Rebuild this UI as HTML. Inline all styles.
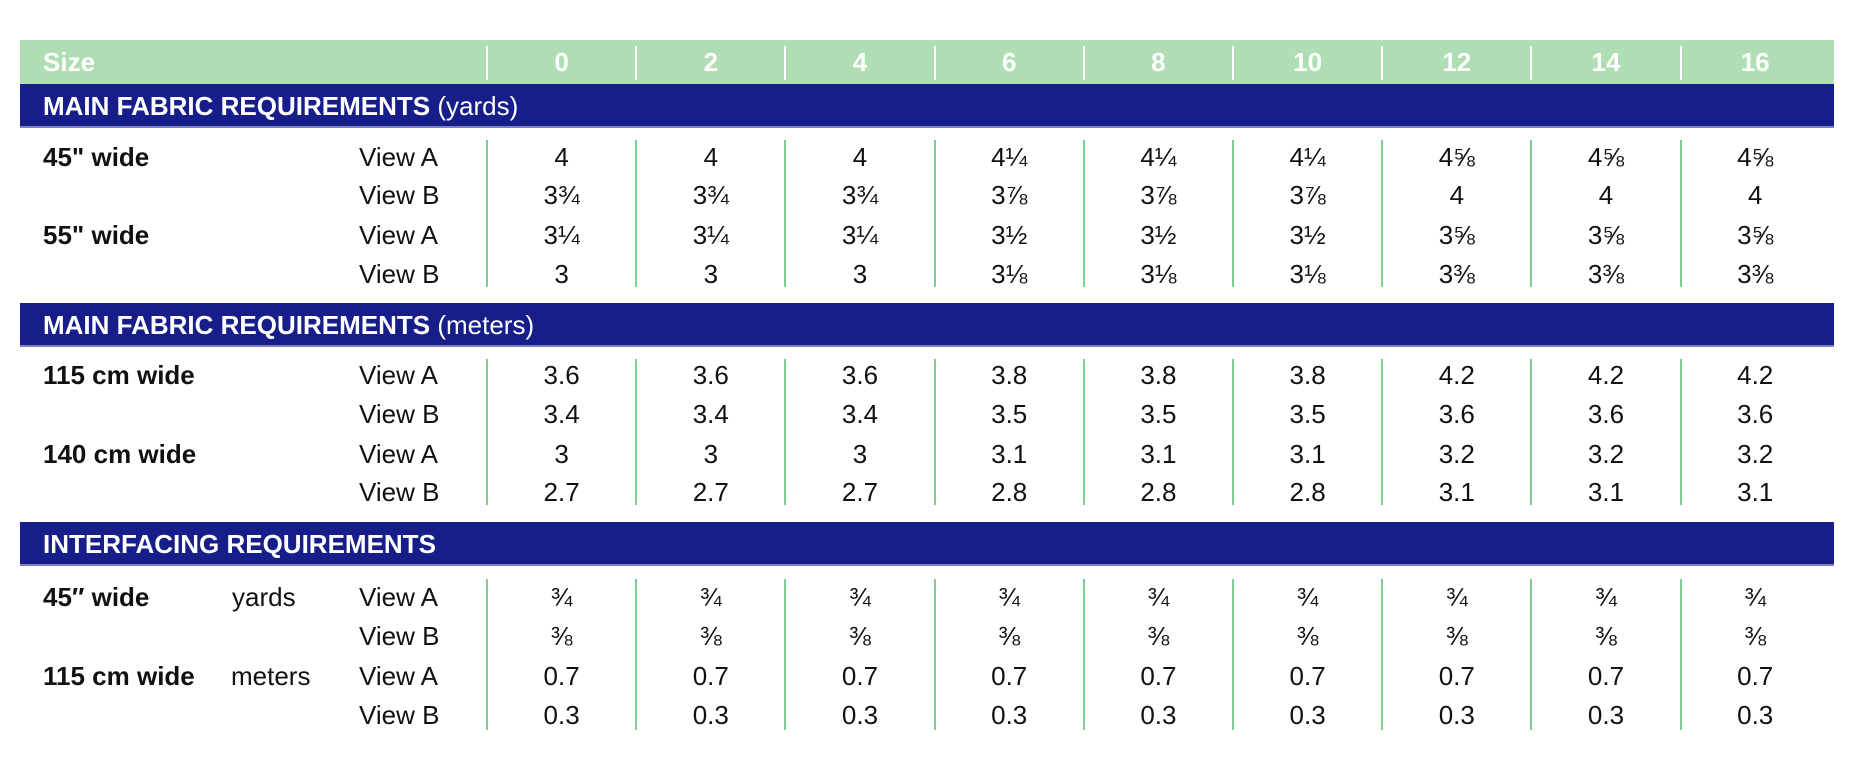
<!DOCTYPE html>
<html><head><meta charset="utf-8">
<style>
html,body{margin:0;padding:0;background:#fff;}
#page{position:relative;width:1855px;height:761px;overflow:hidden;font-family:"Liberation Sans",sans-serif;color:#111;}
.band{position:absolute;left:20px;width:1814px;}
.hdr{background:#b0deb4;top:40px;height:44px;}
.blue{background:#171e8a;border-bottom:2px solid #7d82c4;box-sizing:border-box;height:44px;color:#fff;font-size:26px;line-height:44px;padding-left:23px;}
.t{position:absolute;white-space:nowrap;font-size:26px;line-height:30px;transform:translateY(-50%);}
.c{transform:translate(-50%,-50%);}
.b{font-weight:bold;}
.w{color:#fff;font-weight:bold;}
.vl{position:absolute;width:2px;background:#7fcf8f;}
.hl{position:absolute;width:2px;background:#fff;top:46px;height:34px;}
</style></head>
<body>
<div id="page">
<div class="band hdr"></div>
<div class="band blue" style="top:84px"><span style="font-weight:bold">MAIN FABRIC REQUIREMENTS</span> (yards)</div>
<div class="band blue" style="top:303px"><span style="font-weight:bold">MAIN FABRIC REQUIREMENTS</span> (meters)</div>
<div class="band blue" style="top:522px"><span style="font-weight:bold">INTERFACING REQUIREMENTS</span></div>
</div>
<script>
const sizes=["0","2","4","6","8","10","12","14","16"];
const yardsRows=[
["4","4","4","4¼","4¼","4¼","4⅝","4⅝","4⅝"],
["3¾","3¾","3¾","3⅞","3⅞","3⅞","4","4","4"],
["3¼","3¼","3¼","3½","3½","3½","3⅝","3⅝","3⅝"],
["3","3","3","3⅛","3⅛","3⅛","3⅜","3⅜","3⅜"]];
const meterRows=[
["3.6","3.6","3.6","3.8","3.8","3.8","4.2","4.2","4.2"],
["3.4","3.4","3.4","3.5","3.5","3.5","3.6","3.6","3.6"],
["3","3","3","3.1","3.1","3.1","3.2","3.2","3.2"],
["2.7","2.7","2.7","2.8","2.8","2.8","3.1","3.1","3.1"]];
const interRows=[
["¾","¾","¾","¾","¾","¾","¾","¾","¾"],
["⅜","⅜","⅜","⅜","⅜","⅜","⅜","⅜","⅜"],
["0.7","0.7","0.7","0.7","0.7","0.7","0.7","0.7","0.7"],
["0.3","0.3","0.3","0.3","0.3","0.3","0.3","0.3","0.3"]];
const page=document.getElementById('page');
const colX0=487, colW=149.2;
function txt(s,x,y,cls,name){const d=document.createElement('div');d.className='t '+cls;d.textContent=s;d.style.left=x+'px';d.style.top=y+'px';


page.appendChild(d);return d;}
txt('Size',43,62,'w','size-label');
sizes.forEach((s,i)=>{txt(s,colX0+colW*i+colW/2,62,'w c','size-'+s);
if(i>0||true){const l=document.createElement('div');l.className='hl';l.style.left=(colX0+colW*i-1)+'px';


page.appendChild(l);}});
function section(rows,ys,top,bot,labels,units,tag){
 rows.forEach((r,ri)=>{txt(ri%2?'View B':'View A',359,ys[ri],'','view-label');
  r.forEach((v,ci)=>txt(v,colX0+colW*ci+colW/2,ys[ri],'c',tag+'-value'));});
 labels.forEach((l,k)=>{if(l)txt(l,43,ys[k*2],'b','width-label');});
 units.forEach((u,k)=>{if(u)txt(u,u==='yards'?232:231,ys[k*2],'','unit-label');});
 for(let i=0;i<9;i++){const l=document.createElement('div');l.className='vl';l.style.left=(colX0+colW*i-1)+'px';l.style.top=top+'px';l.style.height=(bot-top)+'px';
 
 
 page.appendChild(l);}
}
section(yardsRows,[157,195,235,274],140,287,['45" wide','55" wide'],[],'yards');
section(meterRows,[375,414,454,492],359,505,['115 cm wide','140 cm wide'],[],'meters');
section(interRows,[597,636,676,715],579,730,['45″ wide','115 cm wide'],['yards','meters'],'interfacing');
</script>
</body></html>
